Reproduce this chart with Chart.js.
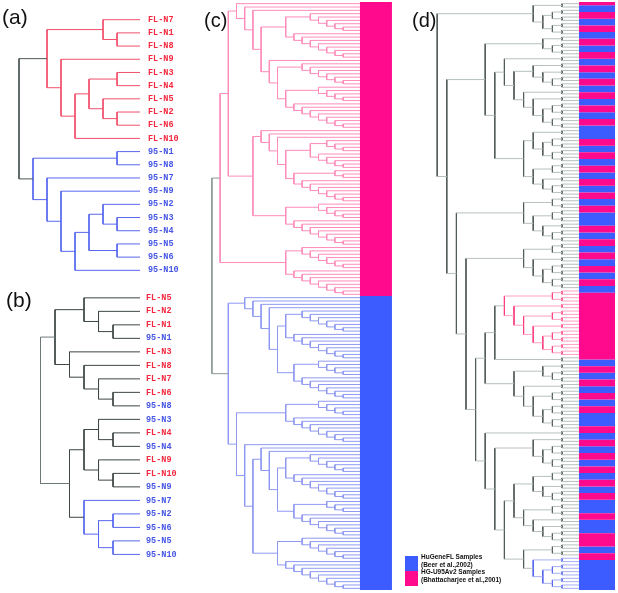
<!DOCTYPE html>
<html>
<head>
<meta charset="utf-8">
<script src="https://cdn.jsdelivr.net/npm/chart.js"></script>
<style>
  body { margin: 0; background: #fff; }
  #wrap { position: relative; width: 618px; height: 593px; overflow: hidden; }
  canvas { position: absolute; }
  .panel { position: absolute; font-family: "Liberation Sans", Arial, sans-serif; color: #111; line-height: 1; }
  .key { position: absolute; width: 13px; height: 15px; }
  .legend { position: absolute; font-family: "Liberation Sans", Arial, sans-serif; font-weight: bold;
            font-size: 6.5px; line-height: 7.6px; color: #111; white-space: nowrap; }
</style>
</head>
<body>
<div id="wrap">
  <canvas id="chartA" width="200" height="290" style="left:0;top:0"></canvas>
  <canvas id="chartB" width="200" height="300" style="left:0;top:280px"></canvas>
  <canvas id="chartC" width="200" height="593" style="left:205px;top:0"></canvas>
  <canvas id="chartD" width="206" height="593" style="left:412px;top:0"></canvas>

  <div class="panel" style="left:2px;top:5.5px;font-size:21px">(a)</div>
  <div class="panel" style="left:6px;top:289px;font-size:21px">(b)</div>
  <div class="panel" style="left:204px;top:10px;font-size:20px">(c)</div>
  <div class="panel" style="left:412px;top:10px;font-size:20px">(d)</div>

  <div class="key" style="left:405px;top:556px;background:#3c5cff"></div>
  <div class="key" style="left:405px;top:571px;background:#ff0a8c"></div>
  <div class="legend" id="legendD" style="left:421px;top:553px"></div>
</div>

<script>
// ---- data ----
// leaf labels, top to bottom
const labelsA = ['FL-N7', 'FL-N1', 'FL-N8', 'FL-N9', 'FL-N3', 'FL-N4', 'FL-N5', 'FL-N2', 'FL-N6', 'FL-N10',
                 '95-N1', '95-N8', '95-N7', '95-N9', '95-N2', '95-N3', '95-N4', '95-N5', '95-N6', '95-N10'];
const labelsB = ['FL-N5', 'FL-N2', 'FL-N1', '95-N1', 'FL-N3', 'FL-N8', 'FL-N7', 'FL-N6', '95-N8', '95-N3',
                 'FL-N4', '95-N4', 'FL-N9', 'FL-N10', '95-N9', '95-N7', '95-N2', '95-N6', '95-N5', '95-N10'];

// trees in bracket form: L = leaf, p = pair of leaves, cN = ladder of N leaves, #x = colour of that subtree
const treeA = '(((L,(L,L)),(L,(((L,L),(L,(L,L))),L)))#r,((L,L),(L,(L,(((L,(L,L)),(L,L)),L))))#b)#k';
const treeB = '(((L,(L,(L,L))),(L,(L,(L,(L,L)))))#k,(((L,(L,L)),(L,(L,L))),(L,((L,L),(L,L)))#b)#k)#g';

const cPinkUpper = '(L,(L,(L,((c6,c8),(L,(c7,(c5,c8)))))))';
const cPinkMiddle = '((L,(L,(L,((c4,c5),(c3,c7))))),(c5,c8))';
const cPinkLower = '(c7,c8)';
const cBlueUpper = '(L,(L,(L,(L,((c7,c8),(c5,c7))))))';
const cBlueLower = '((c5,c8),(L,((L,(L,((c6,c8),(c4,c7)))),(c7,c9))))';
const treeC = `(((${cPinkUpper},${cPinkMiddle}),${cPinkLower})#r,(${cBlueUpper},${cBlueLower})#b)#g`;

const dTop = '(p,((p,p),(p,p)))';
const dA1 = '(p,(p,p))';
const dA3 = '(p,((p,(p,(p,p))),(p,(p,((p,p),(p,p))))))';
const dA4 = '((p,((p,p),(p,p))),((p,p),(p,(p,p))))';
const dB1 = '((p,p),((p,p),(p,(p,p))))';
const dB3 = '((p,p),(p,((p,p),(p,p))))';
const dPink = '((p,p),(p,((p,p),(p,((p,p),(p,p))))))';
const dB5b = '((p,(p,p)),(p,((p,p),((p,p),(p,p)))))';
const dB8 = '(p,((p,p),(p,p)))';
const dB10 = '(((p,p),(p,(p,p))),((p,p),(p,(p,(p,p)))))';
const dBlue = '(p,((p,p),(p,p)))';
const dB6 = `(p,(${dB8},(${dB10},((p,p),${dBlue}#b))))`;
const dB4 = `(((${dPink}#r,p),${dB5b}),${dB6})`;
const treeD = `(${dTop},((${dA1},(${dA3},${dA4})),(${dB1},(${dB3},${dB4}))))#g`;

// colour bars: runs of leaves, P = HG-U95Av2, B = HuGeneFL
const barColorsC = ['P', 'B'];
const barCountsC = [88, 88];
const barColorsD = ['P', 'B', 'P', 'B', 'P', 'B', 'P', 'B', 'P', 'B', 'P', 'B', 'P', 'B', 'P', 'B', 'P', 'B', 'P',
                    'B', 'P', 'B', 'P', 'B', 'P', 'B', 'P', 'B',
                    'P', 'B', 'P', 'B', 'P', 'B', 'P', 'B', 'P', 'B', 'P', 'B', 'P', 'B', 'P', 'B', 'P', 'B', 'P', 'B',
                    'P', 'B', 'P', 'B', 'P', 'B', 'P', 'B', 'P', 'B', 'P', 'B', 'P', 'B', 'P', 'B', 'P', 'B', 'P', 'B', 'P', 'B', 'P', 'B'];
const barCountsD = [1, 2, 2, 2, 2, 2, 2, 2, 2, 2, 2, 2, 2, 2, 2, 2, 2, 2, 2,
                    4, 2, 2, 2, 2, 2, 2, 2, 2,
                    2, 2, 2, 4, 2, 2, 2, 2, 2, 2, 2, 2, 2, 2, 20, 2, 2, 2, 2, 2,
                    2, 2, 2, 4, 2, 2, 2, 2, 2, 2, 2, 2, 2, 2, 2, 4, 2, 4, 4, 2, 2, 9];

const legendLabels = ['HuGeneFL Samples', '(Beer et al.,2002)', 'HG-U95Av2 Samples', '(Bhattacharjee et al.,2001)'];

// ---- colours ----
const BAR_COLORS = { P: '#ff0a8c', B: '#3c5cff' };
const LABEL_RED = '#f4283e';
const LABEL_BLUE = '#4656e6';
const palA = { r: { h: '#f2506c', v: '#f2506c' }, b: { h: '#5868ee', v: '#5868ee' }, k: { h: '#4c5656', v: '#4c5656' } };
const palB = { k: { h: '#3e4646', v: '#3e4646' }, g: { h: '#6e7878', v: '#6e7878' }, b: { h: '#5868ee', v: '#5868ee' } };
const palC = { r: { h: '#ff8cba', v: '#ff8cba' }, b: { h: '#8f99f2', v: '#8f99f2' }, g: { h: '#8c9a94', v: '#8c9a94' } };
const palD = { g: { h: '#b6c0be', v: '#525c5a' }, r: { h: '#ffa0c2', v: '#ff3c7e' }, b: { h: '#a6aef4', v: '#5464ee' } };

// ---- tree helpers ----
function ladder(n) {
    return n === 1 ? {} : { kids: [{}, ladder(n - 1)] };
}

function parseTree(src) {
    const s = src.replace(/\s+/g, '');
    let pos = 0;
    function readNode() {
        let node;
        const ch = s[pos];
        if (ch === '(') {
            pos++;
            const kids = [readNode()];
            while (s[pos] === ',') { pos++; kids.push(readNode()); }
            pos++; // ')'
            node = { kids };
        } else if (ch === 'c') {
            pos++;
            let num = '';
            while (/[0-9]/.test(s[pos])) num += s[pos++];
            node = ladder(parseInt(num, 10));
        } else if (ch === 'p') {
            pos++;
            node = { kids: [{}, {}] };
        } else {
            pos++; // 'L'
            node = {};
        }
        if (s[pos] === '#') { node.tag = s[pos + 1]; pos += 2; }
        return node;
    }
    return readNode();
}

// leaves get consecutive y, each join sits one step above its highest child
function placeNodes(node, counter) {
    if (!node.kids) { node.y = counter.next++; node.h = 0; return; }
    node.kids.forEach(k => placeNodes(k, counter));
    node.h = Math.max(...node.kids.map(k => k.h)) + 1;
    node.y = (node.kids[0].y + node.kids[node.kids.length - 1].y) / 2;
}

function addSeg(out, key, a, b) {
    (out[key] = out[key] || []).push(a, b, { x: null, y: null });
}

function collectLinks(node, tag, leafEnd, out) {
    if (!node.kids) return;
    const t = node.tag || tag;
    const first = node.kids[0];
    const last = node.kids[node.kids.length - 1];
    addSeg(out, t + 'v', { x: node.h, y: first.y }, { x: node.h, y: last.y });
    node.kids.forEach(k => {
        addSeg(out, t + 'h', { x: node.h, y: k.y }, { x: k.kids ? k.h : leafEnd, y: k.y });
        collectLinks(k, t, leafEnd, out);
    });
}

function linkDatasets(segs, palette) {
    // horizontals first, verticals drawn on top
    const keys = Object.keys(segs).sort((a, b) => (a[1] === 'v') - (b[1] === 'v'));
    return keys.map(k => ({
        data: segs[k],
        showLine: true,
        borderColor: palette[k[0]][k[1]],
        borderWidth: 1,
        pointRadius: 0,
        clip: false
    }));
}

function barDatasets(colors, counts, x0, x1, pxWidth) {
    const mid = (x0 + x1) / 2;
    const byColor = {};
    let start = 0;
    colors.forEach((c, i) => {
        (byColor[c] = byColor[c] || []).push(
            { x: mid, y: start - 0.5 }, { x: mid, y: start + counts[i] - 0.5 }, { x: null, y: null });
        start += counts[i];
    });
    return Object.keys(byColor).map(c => ({
        data: byColor[c],
        showLine: true,
        borderColor: BAR_COLORS[c],
        borderWidth: pxWidth,
        borderCapStyle: 'butt',
        pointRadius: 0,
        clip: false
    }));
}

function labelColor(text) {
    return text && text.startsWith('FL') ? LABEL_RED : LABEL_BLUE;
}

function drawPanel(canvasId, cfg) {
    const tree = parseTree(cfg.tree);
    const counter = { next: 0 };
    placeNodes(tree, counter);
    const segs = {};
    collectLinks(tree, 'k', cfg.leafEnd, segs);
    let datasets = linkDatasets(segs, cfg.palette);
    if (cfg.barColors) {
        datasets = datasets.concat(barDatasets(cfg.barColors, cfg.barCounts, cfg.leafEnd, cfg.barEnd, cfg.barPx));
    }
    const yScale = {
        type: 'linear', reverse: true, min: -0.5, max: counter.next - 0.5, display: false
    };
    if (cfg.labels) {
        Object.assign(yScale, {
            display: true,
            position: 'right',
            grid: { display: false, drawTicks: false },
            border: { display: false },
            afterBuildTicks: s => { s.ticks = cfg.labels.map((_, i) => ({ value: i })); },
            afterFit: s => { s.width = cfg.axisWidth; },
            ticks: {
                autoSkip: false,
                padding: cfg.labelPad,
                font: { family: '"Liberation Mono", "DejaVu Sans Mono", monospace', size: 8.5, weight: 'bold' },
                callback: v => cfg.labels[v],
                color: c => labelColor(c.tick ? cfg.labels[c.tick.value] : '')
            }
        });
    }
    return new Chart(document.getElementById(canvasId), {
        type: 'scatter',
        data: { datasets },
        options: {
            responsive: false,
            animation: false,
            devicePixelRatio: 1,
            events: [],
            layout: { padding: cfg.padding },
            plugins: { legend: { display: false }, tooltip: { enabled: false } },
            elements: { line: { tension: 0 }, point: { radius: 0 } },
            scales: {
                x: { type: 'linear', reverse: true, min: cfg.xMin, max: cfg.xMax, display: false },
                y: yScale
            }
        }
    });
}

drawPanel('chartA', {
    tree: treeA, palette: palA, labels: labelsA, leafEnd: -0.64, xMin: -0.64, xMax: 8,
    axisWidth: 60, labelPad: 8,
    padding: { left: 19, top: 7.16, right: 0, bottom: 9.2 }
});

drawPanel('chartB', {
    tree: treeB, palette: palB, labels: labelsB, leafEnd: -0.86, xMin: -0.86, xMax: 6,
    axisWidth: 60, labelPad: 6,
    padding: { left: 40.5, top: 7.15, right: 0, bottom: 18.85 }
});

drawPanel('chartC', {
    tree: treeC, palette: palC, leafEnd: -1.06, xMin: -4.95, xMax: 17,
    barColors: barColorsC, barCounts: barCountsC, barEnd: -4.95, barPx: 32,
    padding: { left: 6.9, top: 2, right: 13.1, bottom: 3 }
});

drawPanel('chartD', {
    tree: treeD, palette: palD, leafEnd: -0.77, xMin: -4.52, xMax: 14,
    barColors: barColorsD, barCounts: barCountsD, barEnd: -4.52, barPx: 36,
    padding: { left: 25.2, top: 2, right: 3, bottom: 3 }
});

document.getElementById('legendD').innerHTML = legendLabels.join('<br>');
</script>
</body>
</html>
